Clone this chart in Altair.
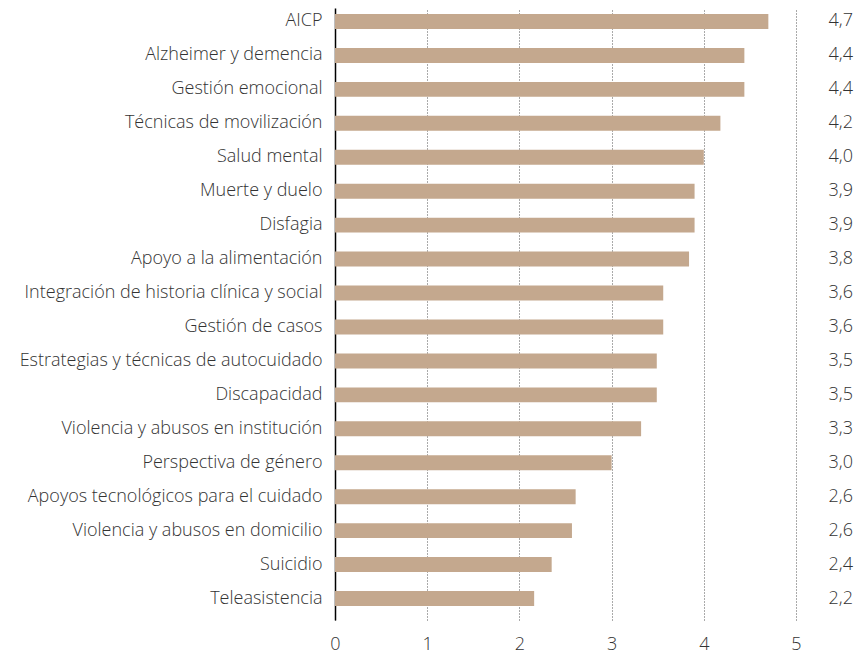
import altair as alt
import pandas as pd

categories = [
    "AICP", "Alzheimer y demencia", "Gestión emocional", "Técnicas de movilización",
    "Salud mental", "Muerte y duelo", "Disfagia", "Apoyo a la alimentación",
    "Integración de historia clínica y social", "Gestión de casos",
    "Estrategias y técnicas de autocuidado", "Discapacidad",
    "Violencia y abusos en institución", "Perspectiva de género",
    "Apoyos tecnológicos para el cuidado", "Violencia y abusos en domicilio",
    "Suicidio", "Teleasistencia",
]
values = [4.70, 4.44, 4.44, 4.18, 4.00, 3.90, 3.90, 3.84, 3.56, 3.56,
          3.49, 3.49, 3.32, 3.00, 2.61, 2.57, 2.35, 2.16]
value_labels = ["4,7", "4,4", "4,4", "4,2", "4,0", "3,9", "3,9", "3,8", "3,6", "3,6",
                "3,5", "3,5", "3,3", "3,0", "2,6", "2,6", "2,4", "2,2"]
x_ticks = [0, 1, 2, 3, 4, 5]

df = pd.DataFrame({"cat": categories, "val": values, "lab": value_labels})

FONT = "Open Sans"
TXT = "#333333"
FS = 18
W, H = 461, 612

y_enc = alt.Y("cat:N", sort=categories,
              scale=alt.Scale(paddingInner=0.56, paddingOuter=0.295, align=0.3),
              axis=alt.Axis(title=None, ticks=False, domainColor="#000000", domainWidth=1.5,
                            labelFont=FONT, labelFontSize=FS, labelColor=TXT,
                            labelFontWeight=300, labelPadding=13, labelLimit=500))

bars = alt.Chart(df).mark_bar(color="#C4A88E").encode(
    x=alt.X("val:Q", scale=alt.Scale(domain=[0, 5], nice=False),
            axis=alt.Axis(title=None, values=x_ticks, ticks=False, domain=False,
                          grid=True, gridColor="#555555", gridDash=[1, 2], gridWidth=1,
                          labelFont=FONT, labelFontSize=FS, labelColor=TXT,
                          labelFontWeight=300, labelPadding=15, labelFlush=False,
                          format="d")),
    y=y_enc,
)

texts = alt.Chart(df).mark_text(align="right", baseline="middle", font=FONT,
                                fontSize=FS, fontWeight=300, color=TXT).encode(
    x=alt.value(518),
    y=alt.Y("cat:N", sort=categories),
    text="lab:N",
)

chart = alt.layer(bars, texts).properties(
    width=W, height=H,
    autosize=alt.AutoSizeParams(type="none"),
    padding={"left": 327, "top": 0, "right": 59, "bottom": 34},
).configure_view(stroke=None)

chart.save("out.html", embed_options={"renderer": "svg", "actions": False})
